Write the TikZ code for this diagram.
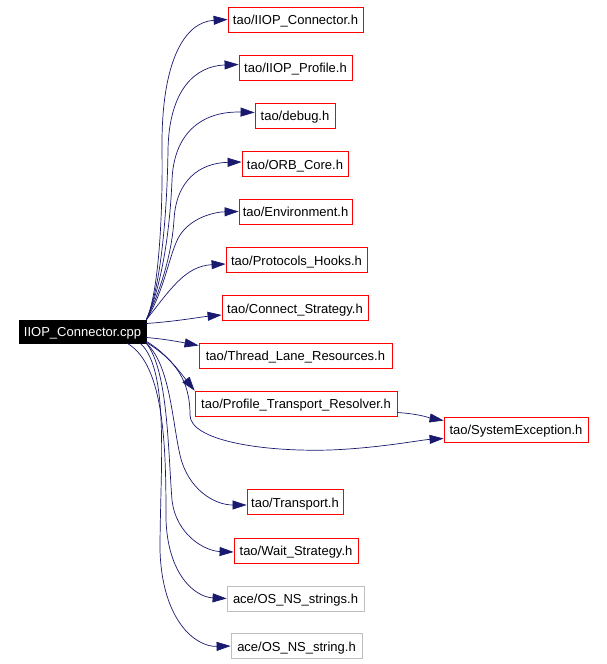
\documentclass[tikz,border=0pt]{standalone}
\usepackage{fontspec}
\setmainfont{Liberation Sans}
\usetikzlibrary{arrows.meta,calc}

\definecolor{edgeblue}{HTML}{191970}
\definecolor{boxred}{HTML}{FF0000}
\definecolor{boxgray}{HTML}{BFBFBF}

\tikzset{
  hdr/.style = {draw=boxred, line width=0.8pt, inner sep=0pt, minimum height=25pt,
                text height=10.5pt, text depth=0pt,
                font=\fontsize{13}{15}\selectfont},
  extfile/.style = {hdr, draw=boxgray},
  srcfile/.style = {hdr, fill=black, draw=black, text=white, minimum height=23pt},
  dep/.style = {draw=edgeblue, line width=0.7pt,
                -{Triangle[length=14pt,width=9pt]}, fill=none},
}

\begin{document}
\begin{tikzpicture}[x=1pt, y=-1pt]
        \useasboundingbox (0,0) rectangle (606,664);

        \node[srcfile, minimum width=127pt] (src) at (82.5,331.5) {IIOP\_Connector.cpp};

        \node[hdr, minimum width=135pt] (conn) at (295.5,19.5) {tao/IIOP\_Connector.h};
        \node[hdr, minimum width=113pt] (prof) at (295.5,67.5) {tao/IIOP\_Profile.h};
        \node[hdr, minimum width=80pt] (debug) at (295,115.5) {tao/debug.h};
        \node[hdr, minimum width=106pt] (orb) at (295,164) {tao/ORB\_Core.h};
        \node[hdr, minimum width=113pt] (env) at (295.5,211.5) {tao/Environment.h};
        \node[hdr, minimum width=141pt] (hooks) at (296.5,260) {tao/Protocols\_Hooks.h};
        \node[hdr, minimum width=146pt] (strat) at (295,308) {tao/Connect\_Strategy.h};
        \node[hdr, minimum width=193pt] (lane) at (295.5,355.5) {tao/Thread\_Lane\_Resources.h};
        \node[hdr, minimum width=202pt] (resolver) at (296,403.5) {tao/Profile\_Transport\_Resolver.h};
        \node[hdr, minimum width=144pt] (sysexc) at (516,429.5) {tao/SystemException.h};
        \node[hdr, minimum width=96pt] (transport) at (295,502) {tao/Transport.h};
        \node[hdr, minimum width=124pt] (wait) at (296,550.5) {tao/Wait\_Strategy.h};
        \node[extfile, minimum width=137pt] (strings) at (295.5,598.5) {ace/OS\_NS\_strings.h};
        \node[extfile, minimum width=131pt] (string) at (296.5,646) {ace/OS\_NS\_string.h};

        % upper fan
        \draw[dep] (src.north east) .. controls (158,295) and (163,220) .. (162,150)
                   .. controls (161,60) and (185,22) .. (conn.west);
        \draw[dep] (src.north east) .. controls (160,290) and (167,220) .. (168,150)
                   .. controls (169,90) and (195,66) .. ($(prof.west)+(0,-3)$);
        \draw[dep] (src.north east) .. controls (162,285) and (170,230) .. (172,180)
                   .. controls (174,130) and (205,111) .. ($(debug.west)+(0,-3)$);
        \draw[dep] (src.north east) .. controls (163,285) and (172,250) .. (174,220)
                   .. controls (176,180) and (200,163) .. ($(orb.west)+(0,-2)$);
        \draw[dep] (src.north east) .. controls (165,290) and (170,250) .. (180,235)
                   .. controls (192,217) and (215,212) .. (env.west);
        \draw[dep] (src.north east) .. controls (170,290) and (185,266) .. ($(hooks.west)+(0,4)$);
        \draw[dep] ($(src.east)+(0,-8)$) .. controls (180,321) and (200,317) .. ($(strat.west)+(0,7)$);
        \draw[dep] ($(src.east)+(0,6)$) .. controls (165,339) and (180,342) .. ($(lane.west)+(0,-10)$);

        % lower fan
        \draw[dep] ($(src.south east)+(0,-2)$) .. controls (165,352) and (180,372) .. (resolver.north west);
        \draw[dep] ($(src.south east)+(0,-1)$) .. controls (175,360) and (190,380) .. (190,415)
                   .. controls (190,440) and (260,452) .. (330,450)
                   .. controls (380,448) and (420,440) .. ($(sysexc.west)+(0,9)$);
        \draw[dep] ($(resolver.east)+(0,9)$) .. controls (420,414) and (430,418) .. ($(sysexc.west)+(0,-9)$);
        \draw[dep] (src.south east) .. controls (170,365) and (172,420) .. (180,455)
                   .. controls (188,490) and (215,505) .. ($(transport.west)+(0,3)$);
        \draw[dep] (src.south east) .. controls (168,370) and (168,450) .. (172,500)
                   .. controls (176,535) and (205,551) .. ($(wait.west)+(0,1.5)$);
        \draw[dep] ($(src.south east)+(-19,0)$) .. controls (165,365) and (166,450) .. (166,520)
                   .. controls (168,575) and (195,597) .. (strings.west);
        \draw[dep] ($(src.south east)+(-6,0)$) .. controls (170,370) and (160,470) .. (160,550)
                   .. controls (162,620) and (195,647) .. (string.west);
      \end{tikzpicture}
\end{document}
